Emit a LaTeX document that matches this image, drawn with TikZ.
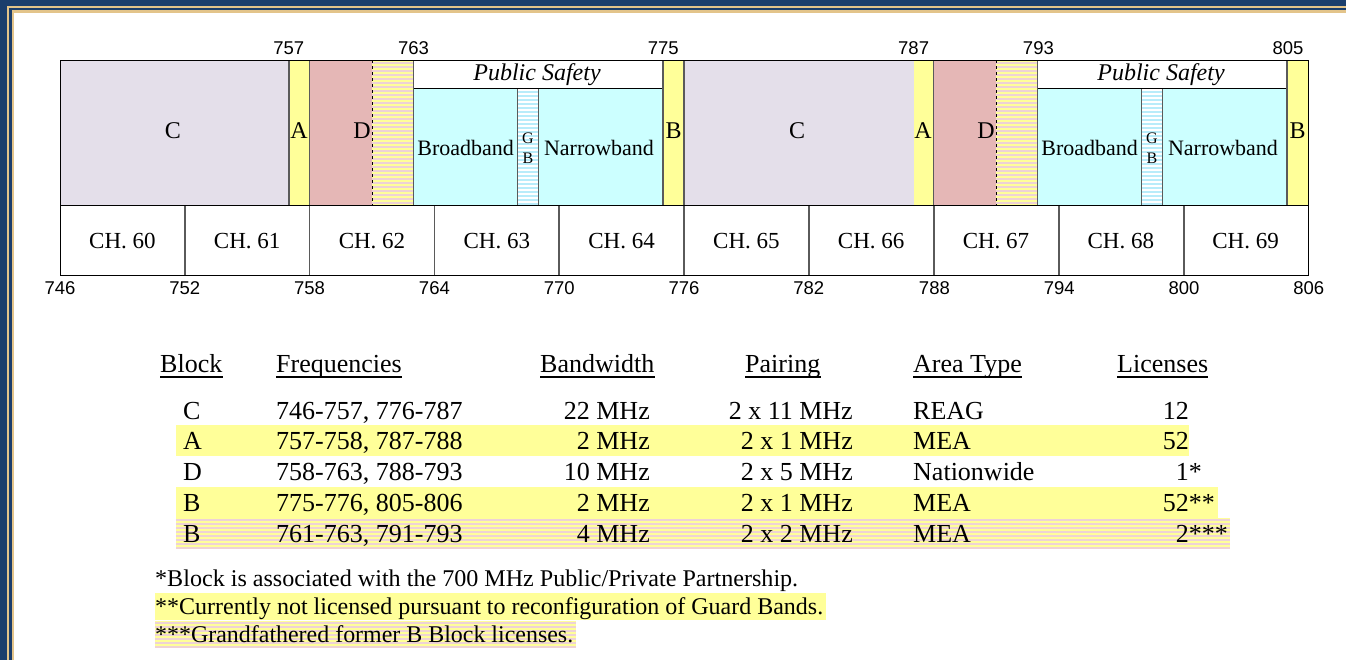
\documentclass[tikz,border=0pt]{standalone}
\usepackage{fontspec}
\setmainfont{Liberation Serif}
\newfontfamily\arialf{Liberation Sans}
\usepackage{graphicx}
\definecolor{navy}{HTML}{1B3E6C}
\definecolor{gold}{HTML}{E3C48A}
\definecolor{lav}{HTML}{E4DFEA}
\definecolor{yel}{HTML}{FFFF99}
\definecolor{rose}{HTML}{E5B7B6}
\definecolor{pinkst}{HTML}{EED2D6}
\definecolor{cyanb}{HTML}{CCFFFF}
\definecolor{cyanst}{HTML}{B8ECFA}
\definecolor{divg}{HTML}{5A5A5A}
\tikzset{
  lbl/.style={font=\fontsize{22}{24}\selectfont, inner sep=0},
  big/.style={font=\fontsize{24}{26}\selectfont, inner sep=0},
  chl/.style={font=\fontsize{23}{26}\selectfont, inner sep=0},
  gbtxt/.style={font=\fontsize{16}{16}\selectfont, inner sep=0},
  num/.style={font=\arialf\fontsize{18.5}{20}\selectfont, inner sep=0},
  tb/.style={font=\fontsize{26}{30}\selectfont, inner sep=0},
  fn/.style={font=\fontsize{24}{26}\selectfont, inner sep=0, anchor=base west},
  divline/.style={divg, line width=1.6},
  frame/.style={black, line width=1}
}
\begin{document}
\begin{tikzpicture}[x=1pt,y=-1pt]
\useasboundingbox (0,0) rectangle (1346,660);
% border
\fill[navy] (0,0) rectangle (1346,660);
\fill[gold] (7,6) rectangle (1346,660);
\fill[navy] (9,8) rectangle (1346,660);
\fill[gold] (12,10.5) rectangle (1346,660);
\fill[white] (14,13) rectangle (1346,660);

% ---------- chart (two halves) ----------
\foreach \o in {0,624} {
  \begin{scope}[xshift=\o]
  \fill[lav] (60,60.5) rectangle (288.8,206);
  \fill[yel] (288.8,60.5) rectangle (309.6,206);
  \fill[rose] (309.6,60.5) rectangle (372,206);
  \fill[yel] (372,60.5) rectangle (413.6,206);
  \foreach \yy in {62,66,...,204} \fill[pinkst] (372,\yy) rectangle (413.6,\yy+1.8);
  \fill[white] (413.6,60.5) rectangle (663.2,89);
  \fill[cyanb] (413.6,89) rectangle (517.6,206);
  \fill[white] (517.6,89) rectangle (538.4,206);
  \foreach \yy in {91,95,...,204} \fill[cyanst] (517.6,\yy) rectangle (538.4,\yy+1.8);
  \fill[cyanb] (538.4,89) rectangle (663.2,206);
  \fill[yel] (663.2,60.5) rectangle (684,206);
  \draw[dashed, black, line width=0.8] (372,60.5) -- (372,206);
  \draw[frame] (413.6,89) -- (663.2,89);
  \foreach \xx in {288.8,309.6,413.6,663.2} \draw[divline] (\xx,61) -- (\xx,205.5);
  \foreach \xx in {517.6,538.4} \draw[divline] (\xx,89.5) -- (\xx,205.5);
  \end{scope}
}
\fill[lav] (684,60.5) rectangle (913.6,206);
\foreach \xx in {184.8,309.6,434.4,559.2,684,808.8,934,1059.2,1184} \draw[divline] (\xx,206.5) -- (\xx,275.5);
\draw[divline] (684,61) -- (684,205.5);
\draw[frame] (60,206) -- (1308.8,206);
\draw[frame] (60,60.5) rectangle (1308.8,276);

% block labels
\foreach \o/\s in {0/a,624/b} {
  \node[big] (C\s) at (173+\o,131) {C};
  \node[big] (A\s) at (299+\o,131) {A};
  \node[big, anchor=east] (D\s) at (371+\o,131) {D};
  \node[lbl, font=\itshape\fontsize{24}{26}\selectfont] (PS\s) at (537+\o,75) {Public Safety};
  \node[lbl] (BB\s) at (465.6+\o,148) {Broadband};
  \node[gbtxt] (G\s) at (528+\o,138) {\fontsize{16}{16}\selectfont G};
  \node[gbtxt] (GBb\s) at (528+\o,158) {\fontsize{16}{16}\selectfont B};
  \node[lbl] (NB\s) at (599+\o,148) {Narrowband};
  \node[big] (B\s) at (673.6+\o,131) {B};
}
% channels
\foreach \i in {0,...,9} {
  \pgfmathtruncatemacro{\ch}{60+\i}
  \node[chl] (ch\ch) at (122.4+124.8*\i,241) {CH. \ch};
}
% frequency numbers
\foreach \xx/\t in {288.8/757,413.6/763,663.2/775,913.6/787,1038.4/793,1288/805}
  \node[num] (u\t) at (\xx,48) {\t};
\foreach \xx/\t in {60/746,184.8/752,309.6/758,434.4/764,559.2/770,684/776,808.8/782,934.4/788,1059.2/794,1184/800,1308.8/806}
  \node[num] (l\t) at (\xx,288) {\t};

% ---------- table ----------
\fill[yel] (176,425) rectangle (1189,456);
\fill[yel] (176,487) rectangle (1218,517.5);
\fill[yel] (176,518) rectangle (1230,548);
\foreach \yy in {519,523,...,547} \fill[pinkst] (176,\yy) rectangle (1230,\yy+1.8);

\node[tb, anchor=base west] (h1) at (160,372) {Block};
\node[tb, anchor=base west] (h2) at (276,372) {Frequencies};
\node[tb, anchor=base west] (h3) at (540,372) {Bandwidth};
\node[tb, anchor=base west] (h4) at (745,372) {Pairing};
\node[tb, anchor=base west] (h5) at (913,372) {Area Type};
\node[tb, anchor=base west] (h6) at (1117,372) {Licenses};
\foreach \h in {h1,h2,h3,h4,h5,h6}
  \draw[line width=1.1] ([yshift=-5pt]\h.base west) -- ([yshift=-5pt]\h.base east);

\foreach \r/\yy/\bl/\fr/\bw/\pa/\ar/\li/\st in {
  1/419/C/{746-757, 776-787}/22 MHz/2 x 11 MHz/REAG/12/{},
  2/449/A/{757-758, 787-788}/2 MHz/2 x 1 MHz/MEA/52/{},
  3/480/D/{758-763, 788-793}/10 MHz/2 x 5 MHz/Nationwide/1/*,
  4/511/B/{775-776, 805-806}/2 MHz/2 x 1 MHz/MEA/52/**,
  5/542/B/{761-763, 791-793}/4 MHz/2 x 2 MHz/MEA/2/***} {
  \node[tb, anchor=base west] (bl\r) at (183,\yy) {\bl};
  \node[tb, anchor=base west] (fr\r) at (276,\yy) {\fr};
  \node[tb, anchor=base east] (bw\r) at (650,\yy) {\bw};
  \node[tb, anchor=base east] (pa\r) at (853,\yy) {\pa};
  \node[tb, anchor=base west] (ar\r) at (913,\yy) {\ar};
  \node[tb, anchor=base east] (li\r) at (1189,\yy) {\li\rlap{\st}};
}

% ---------- footnotes ----------
\fill[yel] (155,593) rectangle (826,620);
\fill[yel] (155,621) rectangle (576,648);
\foreach \yy in {622,626,...,646} \fill[pinkst] (155,\yy) rectangle (576,\yy+1.8);
\node[fn] (f1) at (155,586) {\resizebox{643pt}{\height}{*Block is associated with the 700 MHz Public/Private Partnership.}};
\node[fn] (f2) at (155,614) {\resizebox{668pt}{\height}{**Currently not licensed pursuant to reconfiguration of Guard Bands.}};
\node[fn] (f3) at (155,642) {\resizebox{418pt}{\height}{***Grandfathered former B Block licenses.}};
\end{tikzpicture}
\end{document}
